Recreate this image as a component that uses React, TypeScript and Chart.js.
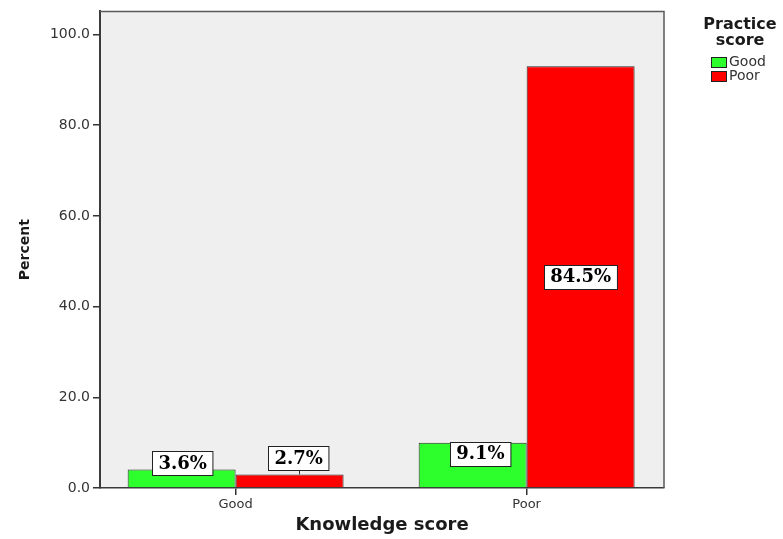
import React, { useEffect, useRef } from 'react';
import { Chart, registerables } from 'chart.js';

Chart.register(...registerables);

// ---- data ----
const categories = ['Good', 'Poor'];
const seriesNames = ['Good', 'Poor'];
const goodValues = [4.1, 10.0];
const poorValues = [3.0, 93.0];
const goodLabels = ['3.6%', '9.1%'];
const poorLabels = ['2.7%', '84.5%'];
const yTicks = [0, 20, 40, 60, 80, 100];
const seriesColors = ['#2cff2c', '#ff0000'];

const xTitle = 'Knowledge score';
const yTitle = 'Percent';
const legendTitle = ['Practice', 'score'];

const valueLabels = [goodLabels, poorLabels];
// pixel offsets of the value boxes relative to the bar top (style, not data)
const labelOffsets = [
  [{ dx: 1, dy: -6.5 }, { dx: 7.7, dy: 11 }],
  [{ dx: 9, dy: -16.3 }, { dx: 0, mid: true }],
];

const framePlugin = {
  id: 'frame',
  beforeDraw(chart: any) {
    const { ctx, chartArea: a } = chart;
    ctx.save();
    ctx.fillStyle = '#ffffff';
    ctx.fillRect(0, 0, chart.width, chart.height);
    ctx.fillStyle = '#efefef';
    ctx.fillRect(a.left, a.top, a.right - a.left, a.bottom - a.top);
    ctx.restore();
  },
  beforeDatasetsDraw(chart: any) {
    const { ctx, chartArea: a } = chart;
    ctx.save();
    ctx.strokeStyle = '#5a5a5a';
    ctx.lineWidth = 1.5;
    ctx.beginPath();
    ctx.moveTo(a.left, a.top);
    ctx.lineTo(a.right, a.top);
    ctx.lineTo(a.right, a.bottom);
    ctx.stroke();
    ctx.restore();
  },
};

const labelPlugin = {
  id: 'valueBoxes',
  afterDatasetsDraw(chart: any) {
    const { ctx } = chart;
    ctx.save();
    ctx.font = 'bold 18px "DejaVu Serif"';
    ctx.textAlign = 'center';
    ctx.textBaseline = 'middle';
    chart.data.datasets.forEach((ds: any, di: number) => {
      const meta = chart.getDatasetMeta(di);
      meta.data.forEach((el: any, i: number) => {
        const text = valueLabels[di][i];
        const off: any = labelOffsets[di][i];
        const cx = el.x + (off.dx || 0);
        const cy = off.mid ? (el.y + el.base) / 2 : el.y + off.dy;
        const w = ctx.measureText(text).width + 12;
        const h = 24;
        const bx = Math.round(cx - w / 2) + 0.5;
        const by = Math.round(cy - h / 2) + 0.5;
        if (by + h < el.y - 1) {
          ctx.strokeStyle = '#333';
          ctx.lineWidth = 1;
          ctx.beginPath();
          ctx.moveTo(Math.round(cx) + 0.5, by + h);
          ctx.lineTo(Math.round(cx) + 0.5, el.y);
          ctx.stroke();
        }
        ctx.fillStyle = '#ffffff';
        ctx.fillRect(bx, by, w, h);
        ctx.strokeStyle = '#222';
        ctx.lineWidth = 1;
        ctx.strokeRect(bx, by, w, h);
        ctx.fillStyle = '#000';
        ctx.fillText(text, cx, cy + 1);
      });
    });
    ctx.restore();
  },
};

const legendPlugin = {
  id: 'sideLegend',
  afterDraw(chart: any) {
    const { ctx } = chart;
    ctx.save();
    ctx.fillStyle = '#1a1a1a';
    ctx.font = 'bold 16px "DejaVu Sans"';
    ctx.textAlign = 'center';
    ctx.textBaseline = 'middle';
    ctx.fillText(legendTitle[0], 740, 25);
    ctx.fillText(legendTitle[1], 740, 41);
    ctx.font = '14px "DejaVu Sans"';
    ctx.textAlign = 'left';
    chart.data.datasets.forEach((ds: any, i: number) => {
      const y = 57 + i * 14;
      ctx.fillStyle = ds.backgroundColor;
      ctx.fillRect(711, y, 15, 10);
      ctx.strokeStyle = '#222';
      ctx.lineWidth = 1;
      ctx.strokeRect(711.5, y + 0.5, 15, 10);
      ctx.fillStyle = '#333';
      ctx.fillText(ds.label, 729, y + 5);
    });
    ctx.restore();
  },
};

export default function App() {
  const ref = useRef<HTMLCanvasElement>(null);
  useEffect(() => {
    if (!ref.current) return;
    Chart.defaults.font.family = '"DejaVu Sans"';
    const seriesValues = [goodValues, poorValues];
    const chart = new Chart(ref.current, {
      type: 'bar',
      data: {
        datasets: seriesNames.map((name, si) => ({
          label: name,
          data: categories.map((c, i) => ({ x: i, y: seriesValues[si][i] })),
          backgroundColor: seriesColors[si],
          borderColor: '#2a2a2a',
          borderWidth: 1,
          barPercentage: 1,
          categoryPercentage: 0.742,
        })),
      },
      options: {
        animation: false,
        responsive: true,
        maintainAspectRatio: false,
        layout: { padding: { left: 0, right: 119, top: 11, bottom: 0 } },
        plugins: { legend: { display: false }, tooltip: { enabled: false } },
        scales: {
          x: {
            type: 'linear',
            offset: false,
            min: -0.466,
            max: 1.472,
            afterBuildTicks: (s: any) => {
              s.ticks = categories.map((_, i) => ({ value: i }));
            },
            afterFit: (s: any) => {
              s.height = 51;
            },
            ticks: {
              callback: (v: any) => categories[v] ?? '',
              color: '#333',
              font: { size: 13 },
              padding: 2,
              maxRotation: 0,
            },
            grid: { offset: false, drawOnChartArea: false, drawTicks: true, tickLength: 7, color: '#333', lineWidth: 1.5 },
            border: { display: true, color: '#3a3a3a', width: 1.5 },
            title: {
              display: true,
              text: xTitle,
              color: '#1a1a1a',
              font: { size: 18, weight: 'bold' },
              padding: { top: 0, bottom: 3 },
            },
          },
          y: {
            min: 0,
            max: 105.1,
            afterBuildTicks: (s: any) => {
              s.ticks = yTicks.map((v) => ({ value: v }));
            },
            afterFit: (s: any) => {
              s.width = 100;
            },
            ticks: {
              callback: (v: any) => Number(v).toFixed(1),
              color: '#333',
              font: { size: 14 },
              padding: 3,
            },
            grid: { drawOnChartArea: false, drawTicks: true, tickLength: 7, color: '#333', lineWidth: 1.5 },
            border: { display: true, color: '#3a3a3a', width: 2 },
            title: {
              display: true,
              text: yTitle,
              color: '#1a1a1a',
              font: { size: 14, weight: 'bold' },
              padding: { top: 17, bottom: 0 },
            },
          },
        },
      } as any,
      plugins: [framePlugin, labelPlugin, legendPlugin],
    });
    return () => chart.destroy();
  }, []);
  return (
    <div style={{ position: 'fixed', left: 0, top: 0, width: 783, height: 539, background: '#fff' }}>
      <canvas ref={ref} />
    </div>
  );
}
